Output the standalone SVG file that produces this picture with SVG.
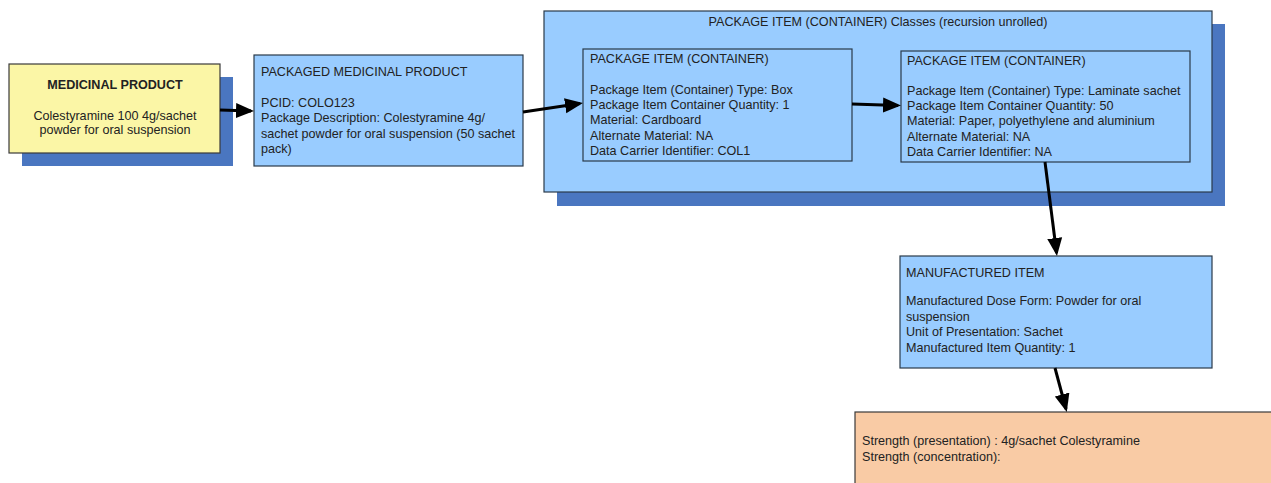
<svg xmlns="http://www.w3.org/2000/svg" width="1271" height="483" viewBox="0 0 1271 483">
<defs>
<style>
text{font-family:"Liberation Sans",Arial,sans-serif;font-size:12.6px;fill:#222}
.b{font-weight:bold}
.m{text-anchor:middle}
.shadow{fill:#4a76c0}
.blue{fill:#99ccff;stroke:#2a3a4a;stroke-width:1.2}
.inner{fill:none;stroke:#2a3a4a;stroke-width:1.2}
.yellow{fill:#fbf6a6;stroke:#3a3a3a;stroke-width:1.2}
.peach{fill:#f9cba5;stroke:#3a3a3a;stroke-width:1.2}
.c{stroke:#000;stroke-width:3;fill:none;marker-end:url(#ah)}
</style>
<marker id="ah" markerWidth="6" markerHeight="6" refX="5" refY="3" orient="auto" markerUnits="strokeWidth">
<path d="M0,0.5 L6,3 L0,5.5 Z" fill="#000"/>
</marker>
</defs>
<rect width="1271" height="483" fill="#fff"/>
<g id="medicinal-product">
<rect class="shadow" x="22" y="77" width="211" height="89"/>
<rect class="yellow" x="9" y="64" width="211" height="89"/>
<text class="b m" x="115" y="89">MEDICINAL PRODUCT</text>
<text class="m" x="115" y="120">Colestyramine 100 4g/sachet</text>
<text class="m" x="115" y="134">powder for oral suspension</text>
</g>
<g id="packaged-medicinal-product">
<rect class="blue" x="254" y="55" width="269" height="111"/>
<text x="261" y="76">PACKAGED MEDICINAL PRODUCT</text>
<text x="261" y="107">PCID: COLO123</text>
<text x="261" y="122">Package Description: Colestyramine 4g/</text>
<text x="261" y="138">sachet powder for oral suspension (50 sachet</text>
<text x="261" y="153">pack)</text>
</g>
<g id="package-item-classes">
<rect class="shadow" x="557" y="24" width="668" height="182"/>
<rect class="blue" x="544" y="11" width="668" height="181"/>
<text class="m" x="878" y="26">PACKAGE ITEM (CONTAINER) Classes (recursion unrolled)</text>
</g>
<g id="package-item-1">
<rect class="inner" x="583" y="49" width="269" height="112"/>
<text x="590" y="63">PACKAGE ITEM (CONTAINER)</text>
<text x="590" y="94">Package Item (Container) Type: Box</text>
<text x="590" y="109">Package Item Container Quantity: 1</text>
<text x="590" y="124">Material: Cardboard</text>
<text x="590" y="140">Alternate Material: NA</text>
<text x="590" y="155">Data Carrier Identifier: COL1</text>
</g>
<g id="package-item-2">
<rect class="inner" x="901" y="51" width="289" height="111"/>
<text x="907" y="65">PACKAGE ITEM (CONTAINER)</text>
<text x="907" y="95">Package Item (Container) Type: Laminate sachet</text>
<text x="907" y="110">Package Item Container Quantity: 50</text>
<text x="907" y="125">Material: Paper, polyethylene and aluminium</text>
<text x="907" y="141">Alternate Material: NA</text>
<text x="907" y="156">Data Carrier Identifier: NA</text>
</g>
<g id="manufactured-item">
<rect class="blue" x="900" y="256" width="312" height="112"/>
<text x="906" y="277">MANUFACTURED ITEM</text>
<text x="906" y="305">Manufactured Dose Form: Powder for oral</text>
<text x="906" y="321">suspension</text>
<text x="906" y="336">Unit of Presentation: Sachet</text>
<text x="906" y="352">Manufactured Item Quantity: 1</text>
</g>
<g id="strength">
<rect class="peach" x="855" y="412" width="420" height="75"/>
<text x="862" y="445">Strength (presentation) : 4g/sachet Colestyramine</text>
<text x="862" y="461">Strength (concentration):</text>
</g>
<g id="connectors">
<line class="c" x1="220" y1="110" x2="251" y2="111"/>
<line class="c" x1="523" y1="112" x2="580" y2="103.5"/>
<line class="c" x1="852" y1="104" x2="898" y2="105.5"/>
<line class="c" x1="1045" y1="162" x2="1056.6" y2="253"/>
<line class="c" x1="1055" y1="368" x2="1066" y2="409"/>
</g>
</svg>
